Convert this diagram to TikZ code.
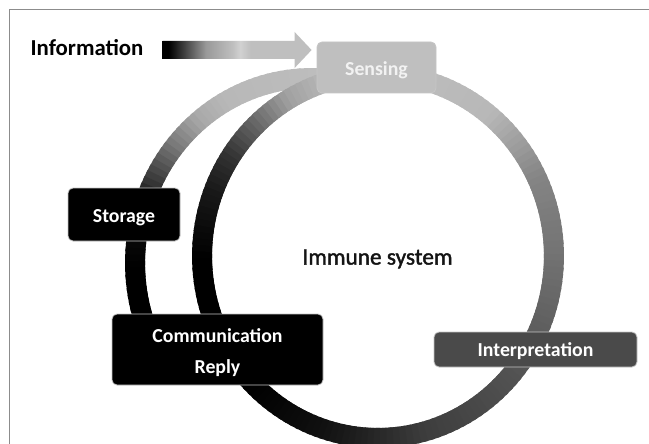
\documentclass[tikz,border=0pt]{standalone}
\usepackage{fontspec}
\setmainfont{Carlito}
\newfontfamily\medfont{Carlito}[FakeBold=1.6]
\usetikzlibrary{calc}
\definecolor{lightg}{HTML}{BFBFBF}
\definecolor{interg}{HTML}{4A4A4A}
\definecolor{framec}{HTML}{8C8C8C}
\definecolor{senstext}{HTML}{F2F2F2}
\pgfdeclarehorizontalshading{infoarrow}{100bp}{color(0bp)=(black); color(27bp)=(black); color(39.5bp)=(black!40); color(48.5bp)=(lightg); color(51bp)=(black!18); color(54.5bp)=(lightg); color(100bp)=(lightg)}
\tikzset{
  boxstyle/.style={rounded corners=5pt, draw=gray!45, line width=0.8pt, inner sep=0pt,
    font=\bfseries\fontsize{19.8}{31}\selectfont, align=center},
  plaintext/.style={inner sep=0pt},
  ringline/.style={line width=20pt}
}
\begin{document}
\begin{tikzpicture}[x=1pt,y=-1pt]
\useasboundingbox (0,0) rectangle (649,444);
\fill[white] (0,0) rectangle (649,444);
\draw[framec, line width=1.2pt] (9.5,444) -- (9.5,9.5) -- (649,9.5);

% outer arc (Sensing -> Storage -> Communication)
\foreach \pa/\pb/\ga/\gb in {12/-30/75/72, -30/-40/72/66, -40/-52/66/46, -52/-60/46/30, -60/-68/30/15, -68/-80/15/5, -80/-92/5/0, -92/-114/0/0}{
  \pgfmathtruncatemacro\nn{max(1,abs(\pb-\pa)/2)}
  \pgfmathsetmacro\dd{(\pb-\pa)/\nn}
  \foreach \k in {1,...,\nn}{
    \pgfmathsetmacro\ta{\pa+\dd*(\k-1)-0.3*\dd}
    \pgfmathsetmacro\tb{\pa+\dd*\k+0.3*\dd}
    \pgfmathsetmacro\gg{100-(\ga+(\gb-\ga)*(\k-0.5)/\nn)}
    \draw[ringline, black!\gg] ({312+177*sin(\ta)},{263-185*cos(\ta)}) -- ({312+177*sin(\tb)},{263-185*cos(\tb)});
  }
}

% main ring
\foreach \pa/\pb/\ga/\gb in {0/40/75/72, 40/65/72/52, 65/90/52/45, 90/120/45/35, 120/140/35/30, 140/165/30/24, 165/180/24/16, 180/200/16/6, 200/226/6/0, 226/270/0/0, 270/292/0/10, 292/304/10/20, 304/318/20/42, 318/330/42/63, 330/346/63/74, 346/360/74/75}{
  \pgfmathtruncatemacro\nn{max(1,abs(\pb-\pa)/2)}
  \pgfmathsetmacro\dd{(\pb-\pa)/\nn}
  \foreach \k in {1,...,\nn}{
    \pgfmathsetmacro\ta{\pa+\dd*(\k-1)-0.3*\dd}
    \pgfmathsetmacro\tb{\pa+\dd*\k+0.3*\dd}
    \pgfmathsetmacro\gg{100-(\ga+(\gb-\ga)*(\k-0.5)/\nn)}
    \draw[ringline, black!\gg] ({378+176*sin(\ta)},{256-182*cos(\ta)}) -- ({378+176*sin(\tb)},{256-182*cos(\tb)});
  }
}

% boxes
\node[boxstyle, fill=lightg, text=senstext, minimum width=119pt, minimum height=51pt, text height=15.6pt, text depth=0pt] (sensing) at (376.5,67.5) {Sensing};
\node[boxstyle, fill=black, text=white, minimum width=112pt, minimum height=53pt, text height=15.6pt, text depth=0pt] (storage) at (124,214.5) {Storage};
\node[boxstyle, fill=black, text=white, minimum width=211pt, minimum height=71pt] (comm) at (217.5,349.5) {\rule{0pt}{21pt}Communication\\Reply};
\node[boxstyle, fill=interg, text=white, minimum width=203pt, minimum height=35pt, text height=13.6pt, text depth=0pt] (interp) at (535.5,349.5) {Interpretation};

% texts
\node[plaintext, font=\bfseries\fontsize{22.8}{27}\selectfont] (info) at (87,47.5) {Information};
\node[plaintext, font=\medfont\fontsize{23.3}{28}\selectfont, text=black!92] (immune) at (377.5,259) {Immune system};

% information arrow
\coordinate (atail) at ($(info.east)+(19,2.5)$);
\coordinate (atip) at ($(sensing.west)+(-5,-17.5)$);
\shade[shading=infoarrow] ($(atail)+(0,-9)$) -- ($(atip)+(-17,-9)$) -- ($(atip)+(-17,-18)$) -- (atip) -- ($(atip)+(-17,18)$) -- ($(atip)+(-17,9)$) -- ($(atail)+(0,9)$) -- cycle;
\end{tikzpicture}
\end{document}
